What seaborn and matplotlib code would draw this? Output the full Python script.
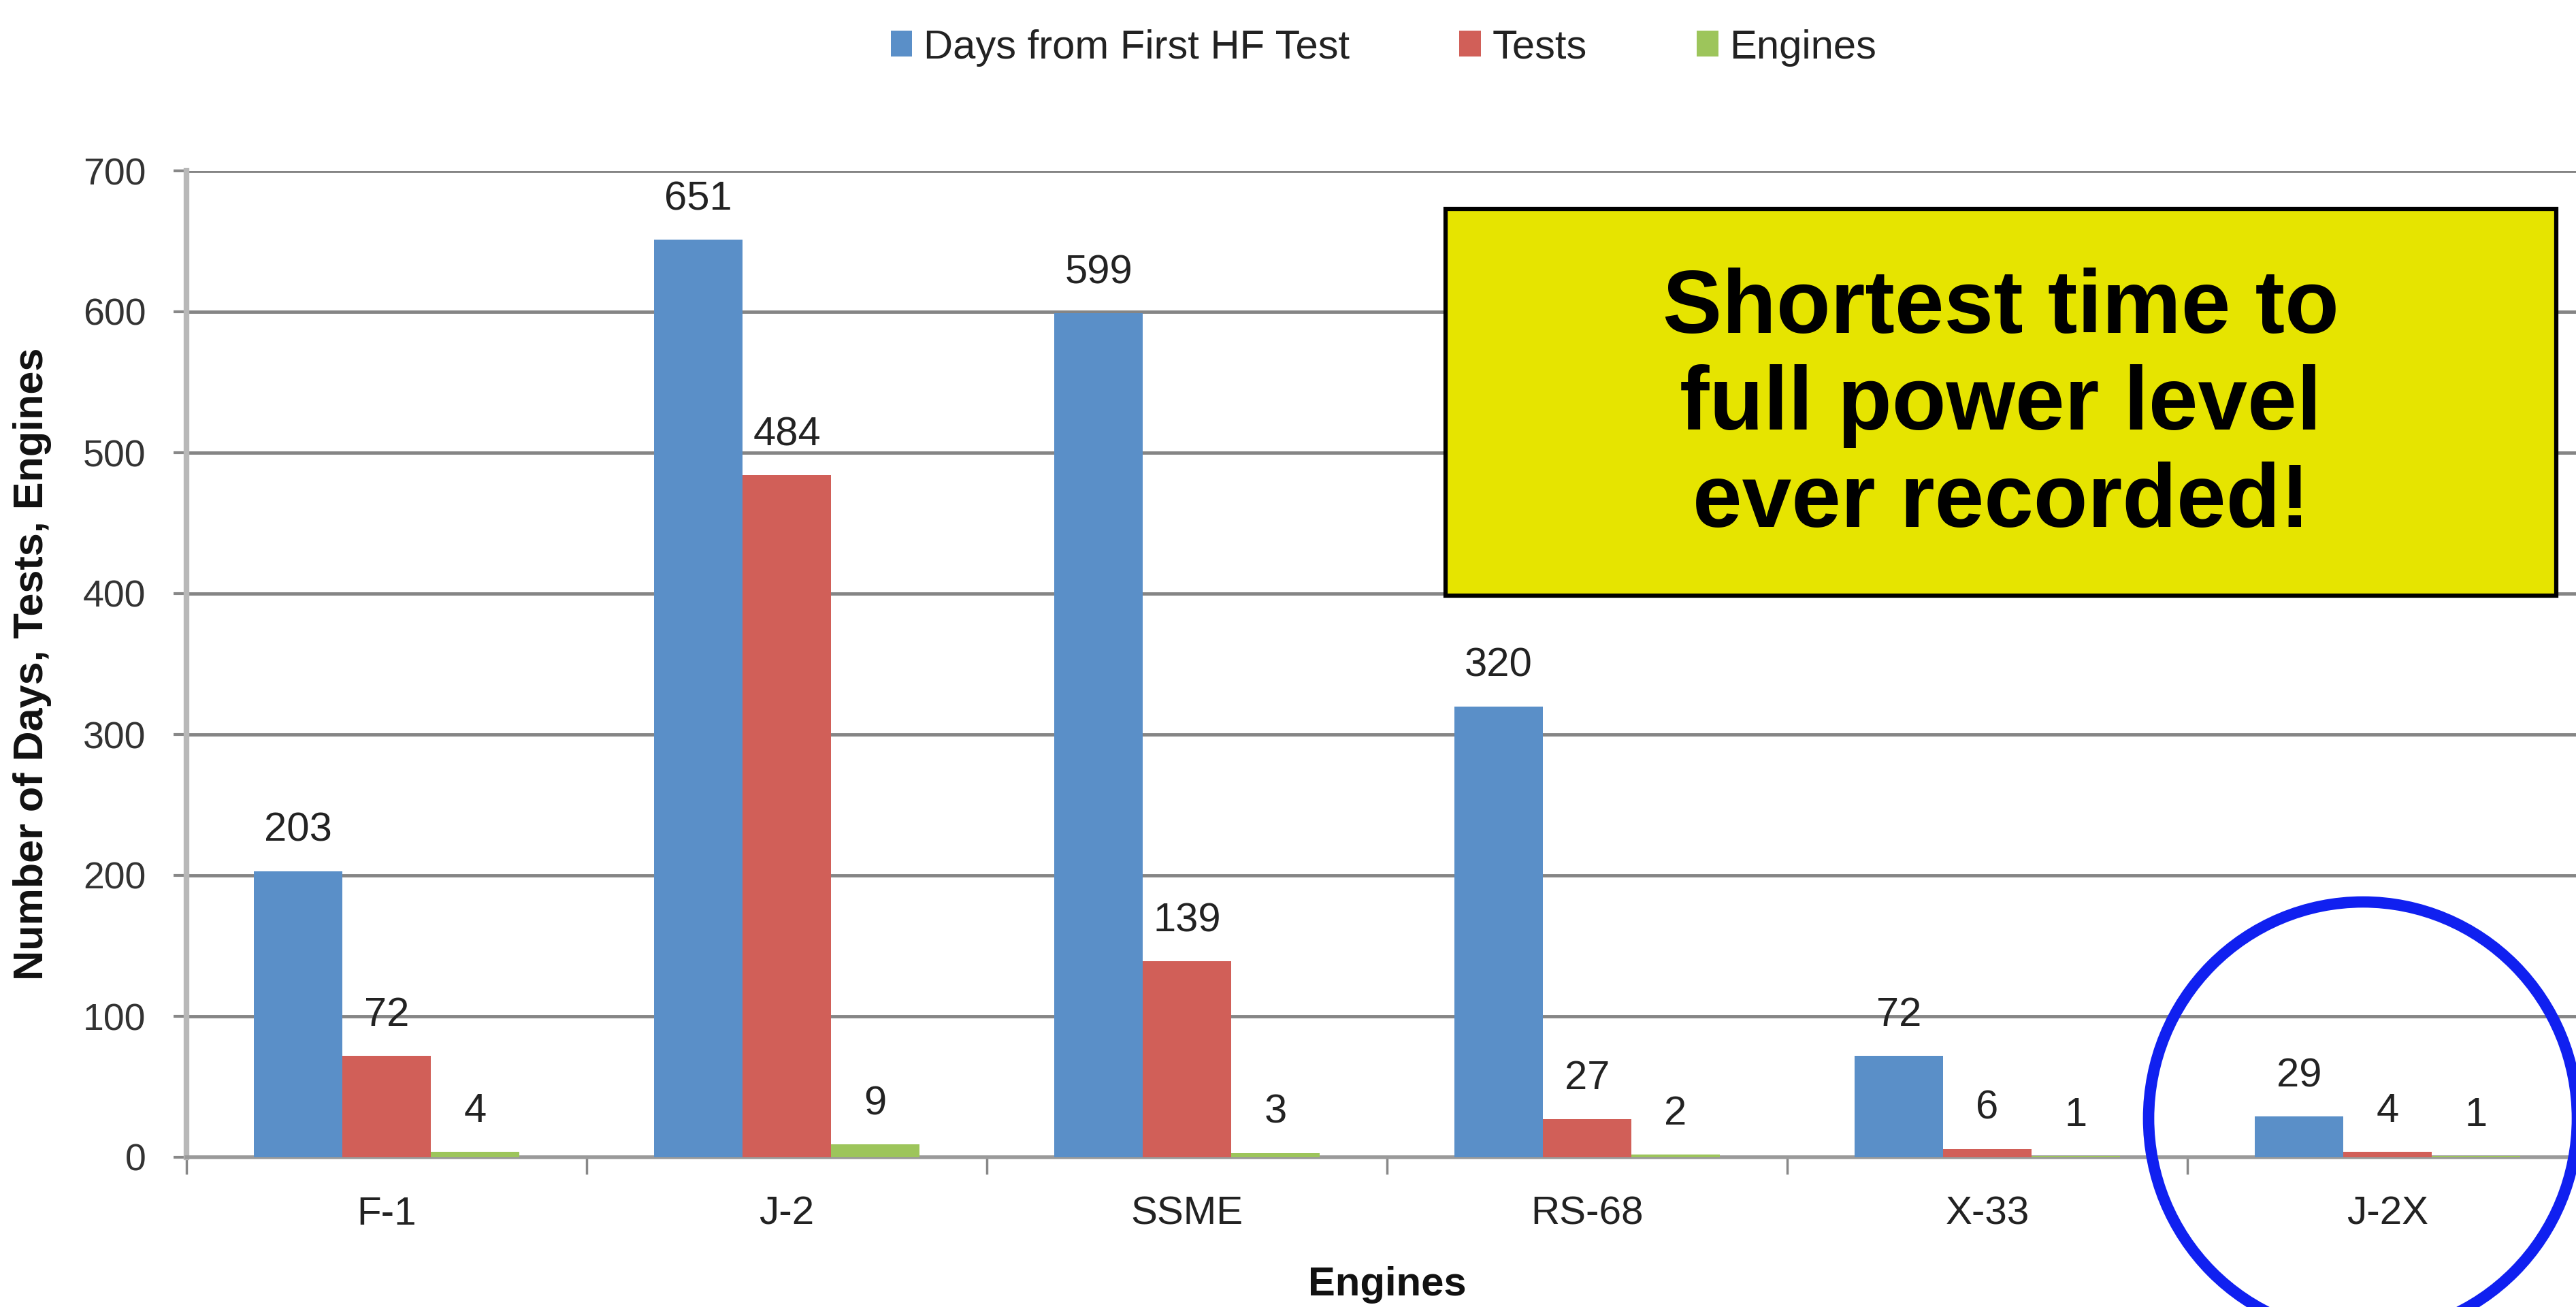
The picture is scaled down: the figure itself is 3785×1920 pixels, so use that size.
import matplotlib
matplotlib.use("Agg")
import matplotlib.pyplot as plt
from matplotlib.patches import Rectangle, Ellipse
import seaborn as sns
import pandas as pd

# ---- data ----
engines = ["F-1", "J-2", "SSME", "RS-68", "X-33", "J-2X"]
series_names = ["Days from First HF Test", "Tests", "Engines"]
days_values = [203, 651, 599, 320, 72, 29]
tests_values = [72, 484, 139, 27, 6, 4]
engines_values = [4, 9, 3, 2, 1, 1]
y_ticks = [0, 100, 200, 300, 400, 500, 600, 700]
callout_text = "Shortest time to\nfull power level\never recorded!"
x_title = "Engines"
y_title = "Number of Days, Tests, Engines"

colors = ["#5A8FC8", "#D15F58", "#9DC55B"]

rows = []
for name, vals in zip(series_names, [days_values, tests_values, engines_values]):
    for e, v in zip(engines, vals):
        rows.append({"Engine": e, "Series": name, "Value": v})
df = pd.DataFrame(rows)

sns.set_style("white")
plt.rcParams["font.family"] = ["Liberation Sans", "DejaVu Sans"]

W, H = 3785, 1920
fig = plt.figure(figsize=(W / 100, H / 100), dpi=100)
fig.patch.set_facecolor("white")

ax_left, ax_right, ax_top, ax_bottom = 274, 3802, 251, 1700
ax = fig.add_axes([ax_left / W, 1 - ax_bottom / H,
                   (ax_right - ax_left) / W, (ax_bottom - ax_top) / H])

sns.barplot(data=df, x="Engine", y="Value", hue="Series", order=engines,
            hue_order=series_names, palette=colors, width=0.663,
            saturation=1, linewidth=0, ax=ax, zorder=3)

handles, labels = ax.get_legend_handles_labels()
if ax.get_legend() is not None:
    ax.get_legend().remove()

for cont in ax.containers:
    ax.bar_label(cont, fmt="%g", padding=23, fontsize=43, color="#222222")

ax.set_ylim(0, 700)
ax.set_xlim(-0.5, len(engines) - 0.5)
ax.set_yticks(y_ticks)
ax.yaxis.grid(True, color="#858585", linewidth=3.5, zorder=0)
ax.xaxis.grid(False)
ax.set_axisbelow(True)

ax.tick_params(axis="y", which="major", length=14, width=3, color="#888888",
               pad=29, labelsize=40, labelcolor="#333333", left=True)
ax.tick_params(axis="x", which="major", length=0, pad=41, labelsize=42,
               labelcolor="#222222")
ax.set_xticks([i + 0.5 for i in range(-1, len(engines))], minor=True)
ax.tick_params(axis="x", which="minor", length=18, width=2.5, color="#888888",
               bottom=True, direction="out")

for s in ["top", "right"]:
    ax.spines[s].set_visible(False)
ax.spines["left"].set_color("#b8b8b8")
ax.spines["left"].set_linewidth(6)
ax.spines["bottom"].set_color("#9a9a9a")
ax.spines["bottom"].set_linewidth(4)

ax.set_xlabel(x_title, fontsize=43, fontweight="bold", color="#111111")
ax.xaxis.label.set_va("baseline")
ax.xaxis.set_label_coords(0.5, (ax_bottom - 1903) / (ax_bottom - ax_top))
ax.set_ylabel(y_title, fontsize=44, fontweight="bold", color="#111111")
ax.yaxis.label.set_va("center")
ax.yaxis.set_label_coords((48 - ax_left) / (ax_right - ax_left), 0.5)

fig.legend(handles, labels, loc="center",
           bbox_to_anchor=(2033 / W, 1 - 70 / H), ncol=3, frameon=False,
           fontsize=43, handlelength=0.53, handleheight=0.6,
           handletextpad=0.28, columnspacing=2.7, labelcolor="#222222")

# callout box
bx0, bx1, by0, by1 = 2124, 3756, 307, 875
rect = Rectangle((bx0 / W, 1 - by1 / H), (bx1 - bx0) / W, (by1 - by0) / H,
                 transform=fig.transFigure, facecolor="#E6E400",
                 edgecolor="black", linewidth=4.5, zorder=5)
fig.add_artist(rect)
fig.text((bx0 + bx1) / 2 / W, 1 - 597 / H, callout_text, ha="center",
         va="center", fontsize=94, fontweight="bold", linespacing=1.2,
         color="black", zorder=6)

# highlight circle
circ = Ellipse((3472 / W, 1 - 1643 / H), 630 / W, 636 / H,
               transform=fig.transFigure, facecolor="none",
               edgecolor="#1020F0", linewidth=12, zorder=6, clip_on=False)
fig.add_artist(circ)

fig.savefig("out.png", dpi=100, facecolor="white")
